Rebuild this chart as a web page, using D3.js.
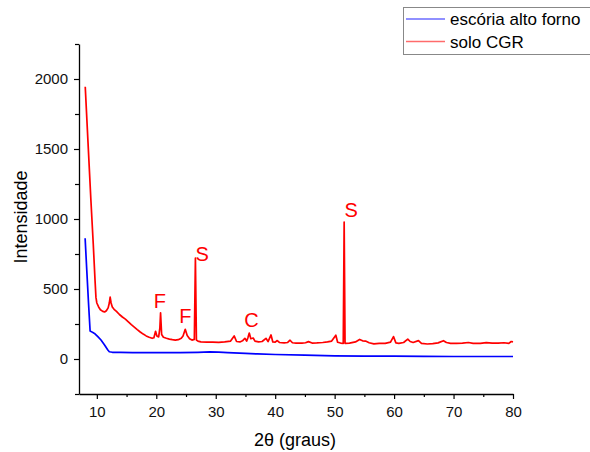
<!DOCTYPE html>
<html>
<head>
<meta charset="utf-8">
<script src="https://cdn.jsdelivr.net/npm/d3@7"></script>
<style>
  body { margin: 0; background: #fff; }
  svg { font-family: "Liberation Sans", Arial, sans-serif; }
</style>
</head>
<body>
<div id="chart"></div>
<script>
// 2theta / intensity pairs
var soloCGR = [
  [8.05,1945],[8.5,1560],[9.0,1136],[9.4,820],[9.7,560],[9.85,440],[10.0,400],[10.3,372],[10.6,352],
  [11.0,340],[11.3,336],[11.6,345],[11.9,365],[12.1,400],[12.24,442],[12.4,400],[12.6,372],[12.9,355],
  [13.3,340],[13.8,318],[14.3,300],[14.8,285],[15.3,265],[15.8,245],[16.3,228],[16.8,210],[17.3,193],
  [17.8,178],[18.3,165],[18.8,155],[19.3,148],[19.6,152],[19.88,198],[20.1,165],[20.4,158],[20.6,220],
  [20.72,330],[20.9,175],[21.2,155],[21.7,148],[22.2,142],[22.7,138],[23.2,135],[23.7,138],[24.2,148],
  [24.5,165],[24.87,212],[25.2,168],[25.6,145],[26.0,135],[26.4,140],[26.58,720],[26.75,135],[27.0,128],
  [27.5,122],[28.5,120],[29.5,121],[30.5,119],[31.5,122],[32.5,128],[33.1,165],[33.5,125],[34.07,122],
  [34.5,130],[34.9,148],[35.2,128],[35.4,150],[35.64,185],[35.9,145],[36.3,150],[36.6,128],[37.2,122],
  [37.8,125],[38.45,148],[38.8,124],[39.3,172],[39.6,122],[40.0,120],[40.35,132],[40.7,118],[41.5,115],
  [42.1,118],[42.5,134],[42.9,116],[43.5,114],[44.5,113],[45.1,116],[45.6,124],[46.2,114],[47.0,115],
  [48.0,118],[48.8,122],[49.5,128],[50.2,170],[50.5,120],[51.0,114],[51.45,112],[51.6,978],[51.75,112],
  [52.5,114],[53.5,122],[54.2,140],[54.7,130],[55.2,128],[55.8,116],[56.6,108],[57.5,112],[58.5,112],
  [59.4,120],[59.9,160],[60.3,115],[60.8,112],[61.6,118],[62.3,142],[62.7,125],[63.2,118],[64.1,131],
  [64.6,112],[65.6,107],[66.5,110],[67.4,115],[68.3,131],[68.8,118],[69.5,112],[70.5,112],[71.5,114],
  [72.5,118],[73.3,112],[74.5,112],[75.5,117],[76.5,114],[77.5,113],[78.5,116],[79.3,112],[79.7,125],
  [80.0,122]
];

var escoria = [
  [8.03,862],[8.3,640],[8.6,400],[8.87,200],[9.2,192],[9.6,183],[10.17,160],[10.7,136],[11.3,100],
  [11.85,64],[12.1,52],[12.6,48],[14,47],[16,46],[18,45],[21,45],[24,45],[27,48],[29,51],[30.5,49],
  [32,46],[35,40],[37,36],[40,32],[45,27],[50,22],[55,21],[60,20],[65,19],[70,18],[75,18],[80,18]
];

var seriesNames = ["escória alto forno", "solo CGR"];
var seriesColors = ["#0000ff", "#ff0000"];
var legendColors = ["#6b6bff", "#ff6b6b"];

var peakLabels = ["F", "F", "S", "C", "S"];
var peakX = [20.6, 24.9, 27.7, 36.0, 52.8];
var peakY = [364, 257, 700, 229, 1014];

var xMajor = [10, 20, 30, 40, 50, 60, 70, 80];
var xMinor = [15, 25, 35, 45, 55, 65, 75];
var yMajor = [0, 500, 1000, 1500, 2000];
var yMinor = [-250, 250, 750, 1250, 1750, 2250];

var width = 590, height = 452;

var svg = d3.select("#chart").append("svg")
  .attr("width", width)
  .attr("height", height);

var xScale = d3.scaleLinear().domain([7, 80]).range([79, 513]);
var yScale = d3.scaleLinear().domain([-250, 2250]).range([394, 44]);

// curves
var line = d3.line()
  .x(function(d){ return xScale(d[0]); })
  .y(function(d){ return yScale(d[1]); });

svg.append("path")
  .datum(escoria)
  .attr("d", line)
  .attr("fill", "none")
  .attr("stroke", seriesColors[0])
  .attr("stroke-width", 1.7)
  .attr("stroke-linejoin", "round");

svg.append("path")
  .datum(soloCGR)
  .attr("d", line)
  .attr("fill", "none")
  .attr("stroke", seriesColors[1])
  .attr("stroke-width", 1.7)
  .attr("stroke-linejoin", "round");

// axes
var xAxisG = svg.append("g")
  .attr("transform", "translate(0," + yScale(-250) + ")");
xAxisG.call(d3.axisBottom(xScale).tickValues(xMajor).tickSize(5).tickSizeOuter(0).tickPadding(7)
  .tickFormat(d3.format("d")));
xAxisG.append("g").call(d3.axisBottom(xScale).tickValues(xMinor).tickSize(3).tickSizeOuter(0).tickFormat(""))
  .select(".domain").remove();

var yAxisG = svg.append("g")
  .attr("transform", "translate(" + xScale(7) + ",0)");
yAxisG.call(d3.axisLeft(yScale).tickValues(yMajor).tickSize(5).tickSizeOuter(0).tickPadding(6)
  .tickFormat(d3.format("d")));
yAxisG.append("g").call(d3.axisLeft(yScale).tickValues(yMinor).tickSize(4).tickSizeOuter(0).tickFormat(""))
  .select(".domain").remove();

svg.selectAll(".domain").attr("stroke", "#000").attr("stroke-width", 1.3);
svg.selectAll(".tick line").attr("stroke", "#000").attr("stroke-width", 1.2);
svg.selectAll(".tick text")
  .attr("fill", "#111")
  .style("font-size", "15px")
  .style("font-family", "'Liberation Sans', Arial, sans-serif");

// axis titles
svg.append("text")
  .attr("x", 295)
  .attr("y", 446)
  .attr("text-anchor", "middle")
  .style("font-size", "18px")
  .attr("fill", "#000")
  .text("2θ (graus)");

svg.append("text")
  .attr("transform", "translate(27,217) rotate(-90)")
  .attr("text-anchor", "middle")
  .style("font-size", "18px")
  .attr("fill", "#000")
  .text("Intensidade");

// phase labels
svg.append("g").selectAll("text")
  .data(peakLabels)
  .enter()
  .append("text")
    .attr("x", function(d, i){ return xScale(peakX[i]); })
    .attr("y", function(d, i){ return yScale(peakY[i]); })
    .attr("text-anchor", "middle")
    .attr("fill", "#ff0000")
    .style("font-size", "20px")
    .text(function(d){ return d; });

// legend
var legend = svg.append("g");
legend.append("rect")
  .attr("x", 403.5).attr("y", 7.5)
  .attr("width", 200).attr("height", 47)
  .attr("fill", "#fff")
  .attr("stroke", "#888")
  .attr("stroke-width", 1);

seriesNames.forEach(function(name, i){
  var ly = 19 + i * 22.5;
  legend.append("line")
    .attr("x1", 406).attr("x2", 445)
    .attr("y1", ly).attr("y2", ly)
    .attr("stroke", legendColors[i])
    .attr("stroke-width", 1.6);
  legend.append("text")
    .attr("x", 450)
    .attr("y", ly + 6)
    .style("font-size", "17px")
    .attr("fill", "#000")
    .text(name);
});
</script>
</body>
</html>
